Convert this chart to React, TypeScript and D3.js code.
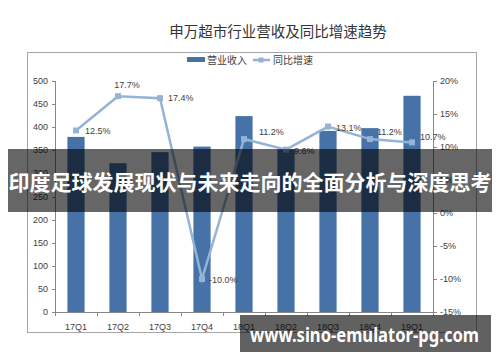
import React from "react";
import * as d3 from "d3";

const categories = ["17Q1", "17Q2", "17Q3", "17Q4", "18Q1", "18Q2", "18Q3", "18Q4", "19Q1"];
const revenue = [379, 322, 346, 358, 424, 352, 392, 398, 468];
const growth = [12.5, 17.7, 17.4, -10.0, 11.2, 9.6, 13.1, 11.2, 10.7];
const leftTicks = [0, 50, 100, 150, 200, 250, 300, 350, 400, 450, 500];
const rightTicks = [-15, -10, -5, 0, 5, 10, 15, 20];
const title = "申万超市行业营收及同比增速趋势";
const legendBar = "营业收入";
const legendLine = "同比增速";
const bannerText = "印度足球发展现状与未来走向的全面分析与深度思考";
const watermark = "www.sino-emulator-pg.com";

// label placement offsets (dx, dy, anchor)
const labelOffsets: [number, number, string][] = [
  [9, 0, "start"], [9, -11, "middle"], [8, 0, "start"], [7, 1, "start"], [15, -7, "start"],
  [8, 1, "start"], [8, 1, "start"], [7, -7, "start"], [8, -5, "start"],
];

const W = 500, H = 362;
const plotL = 55, plotR = 433, plotT = 81, plotB = 312;
const axisFont = "'Liberation Sans', Arial, sans-serif";
const cjkFont = "'Noto Sans CJK SC', sans-serif";
const textColor = "#404040";
const barColor = "#4672A8";
const lineColor = "#95B3D7";

export default function App() {
  const x = d3.scaleBand<string>().domain(categories).range([plotL, plotR]).paddingInner(0.59).paddingOuter(0.295);
  const yL = d3.scaleLinear().domain([0, 500]).range([plotB, plotT]);
  const yR = d3.scaleLinear().domain([-15, 20]).range([plotB, plotT]);
  const step = x.step();
  const cx = (c: string) => (x(c) as number) + x.bandwidth() / 2;
  const line = d3.line<number>().x((_, i) => cx(categories[i])).y((d) => yR(d));

  return (
    <svg width={W} height={H} style={{ position: "absolute", left: 0, top: 0, background: "#fff" }}>
      <rect x={0} y={0} width={W} height={H} fill="#fff" />
      <text x={278} y={30} textAnchor="middle" dominantBaseline="central" fontFamily={cjkFont} fontSize={14.5} fill="#333">{title}</text>
      <rect x={27.5} y={52.5} width={449} height={280} fill="none" stroke="#a6a6a6" strokeWidth={1} />

      {/* legend */}
      <rect x={187} y={57} width={18} height={5} fill={barColor} />
      <text x={207} y={59.5} dominantBaseline="central" fontFamily={cjkFont} fontSize={10} fill={textColor}>{legendBar}</text>
      <line x1={253} x2={270} y1={60} y2={60} stroke={lineColor} strokeWidth={2.5} />
      <rect x={258.5} y={57.5} width={5} height={5} fill={lineColor} />
      <text x={273} y={59.5} dominantBaseline="central" fontFamily={cjkFont} fontSize={10} fill={textColor}>{legendLine}</text>

      {/* left axis */}
      <line x1={plotL + 0.5} x2={plotL + 0.5} y1={plotT} y2={plotB} stroke="#868686" />
      {leftTicks.map((t) => (
        <g key={"l" + t}>
          <line x1={plotL - 3} x2={plotL} y1={Math.round(yL(t)) + 0.5} y2={Math.round(yL(t)) + 0.5} stroke="#868686" />
          <text x={plotL - 7} y={yL(t)} textAnchor="end" dominantBaseline="central" fontFamily={axisFont} fontSize={9} fill={textColor}>{t}</text>
        </g>
      ))}
      {/* right axis */}
      <line x1={plotR + 0.5} x2={plotR + 0.5} y1={plotT} y2={plotB} stroke="#868686" />
      {rightTicks.map((t) => (
        <g key={"r" + t}>
          <line x1={plotR} x2={plotR + 4} y1={Math.round(yR(t)) + 0.5} y2={Math.round(yR(t)) + 0.5} stroke="#868686" />
          <text x={plotR + 7} y={yR(t)} dominantBaseline="central" fontFamily={axisFont} fontSize={9} fill={textColor}>{t + "%"}</text>
        </g>
      ))}
      {/* bars */}
      {revenue.map((v, i) => (
        <rect key={"b" + i} x={x(categories[i])} y={yL(v)} width={x.bandwidth()} height={plotB - yL(v)} fill={barColor} />
      ))}
      {/* category axis */}
      <line x1={plotL} x2={plotR} y1={plotB + 0.5} y2={plotB + 0.5} stroke="#868686" />
      {d3.range(categories.length + 1).map((i) => (
        <line key={"ct" + i} x1={Math.round(plotL + i * step) + 0.5} x2={Math.round(plotL + i * step) + 0.5} y1={plotB} y2={plotB + 4} stroke="#868686" />
      ))}
      {categories.map((c) => (
        <text key={"c" + c} x={cx(c)} y={327} textAnchor="middle" dominantBaseline="central" fontFamily={axisFont} fontSize={9} fill={textColor}>{c}</text>
      ))}
      {/* line */}
      <path d={line(growth) || ""} fill="none" stroke={lineColor} strokeWidth={2.5} />
      {growth.map((g, i) => (
        <rect key={"m" + i} x={cx(categories[i]) - 3} y={yR(g) - 3} width={6} height={6} fill={lineColor} />
      ))}
      {growth.map((g, i) => (
        <text key={"gl" + i} x={cx(categories[i]) + labelOffsets[i][0]} y={yR(g) + labelOffsets[i][1]} textAnchor={labelOffsets[i][2] as any}
          dominantBaseline="central" fontFamily={axisFont} fontSize={9} fill={textColor}>{g.toFixed(1) + "%"}</text>
      ))}

      {/* banner overlay */}
      <rect x={8} y={149} width={484} height={63} fill="rgba(0,0,0,0.6)" />
      <text x={250} y={181} textAnchor="middle" dominantBaseline="central" fontFamily={cjkFont} fontWeight="bold" fontSize={21} fill="#fff">{bannerText}</text>
      <rect x={240} y={315} width={251} height={37} fill="rgba(0,0,0,0.62)" />
      <text x={250} y={342} fontFamily="'Noto Sans', 'Open Sans', sans-serif" fontWeight="bold" fontSize={20} fill="#fff" textLength={229} lengthAdjust="spacingAndGlyphs">{watermark}</text>
    </svg>
  );
}
